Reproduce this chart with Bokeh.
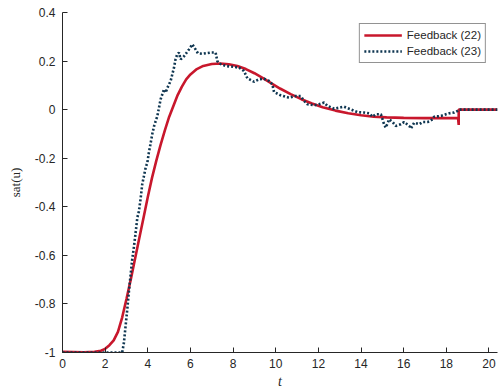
from bokeh.plotting import figure
from bokeh.models import Range1d, FixedTicker, CustomJSTickFormatter, Legend, LegendItem
from bokeh.embed import file_html
from bokeh.resources import INLINE

# Feedback (22) - smooth response
t_fb22 = [0, 0.5, 1.0, 1.5, 1.8, 2.0, 2.2, 2.4, 2.6, 2.8, 3.0, 3.2, 3.4, 3.6, 3.8, 4.0,
          4.2, 4.4, 4.6, 4.8, 5.0, 5.2, 5.4, 5.6, 5.8, 6.0, 6.3, 6.6, 7.0, 7.4, 7.8, 8.2,
          8.6, 9.0, 9.4, 9.8, 10.2, 10.7, 11.2, 11.7, 12.2, 12.8, 13.4, 14.0, 14.6, 15.2,
          16.0, 17.0, 18.0, 18.55, 18.58, 18.58, 20.4]
u_fb22 = [-0.997, -0.998, -0.999, -0.997, -0.993, -0.985, -0.97, -0.95, -0.915, -0.855,
          -0.78, -0.70, -0.615, -0.53, -0.445, -0.36, -0.28, -0.21, -0.145, -0.085, -0.03,
          0.015, 0.06, 0.095, 0.125, 0.145, 0.167, 0.18, 0.188, 0.19, 0.187, 0.18, 0.167,
          0.15, 0.13, 0.108, 0.087, 0.064, 0.043, 0.025, 0.01, -0.004, -0.015, -0.023,
          -0.029, -0.032, -0.034, -0.035, -0.035, -0.035, -0.063, 0.0, 0.0]

# Feedback (23) - noisy response
t_fb23 = [0, 2.8, 2.88, 2.96, 3.04, 3.11, 3.19, 3.27, 3.35, 3.43, 3.51, 3.58, 3.66, 3.74,
          3.82, 3.9, 3.98, 4.05, 4.13, 4.21, 4.3, 4.45, 4.6, 4.76, 4.84, 4.92, 5.07, 5.23,
          5.3, 5.38, 5.46, 5.54, 5.7, 5.93, 6.09, 6.24, 6.35, 6.56, 6.95, 7.18, 7.26, 7.35,
          7.65, 8.04, 8.28, 8.51, 8.67, 8.98, 9.22, 9.45, 9.69, 9.84, 9.92, 10.23, 10.63,
          10.94, 11.17, 11.33, 11.49, 11.8, 12.03, 12.27, 12.43, 12.74, 12.97, 13.2, 13.52,
          13.83, 14.15, 14.38, 14.54, 14.69, 14.93, 15.01, 15.08, 15.16, 15.32, 15.48,
          15.63, 15.87, 16.02, 16.26, 16.34, 16.49, 16.73, 16.89, 17.12, 17.36, 17.43,
          17.75, 17.98, 18.14, 18.37, 18.53, 18.6, 20.4]
u_fb23 = [-1.0, -1.0, -0.96, -0.89, -0.82, -0.753, -0.684, -0.616, -0.565, -0.506, -0.444,
          -0.42, -0.369, -0.307, -0.273, -0.239, -0.218, -0.177, -0.14, -0.1, -0.066,
          -0.026, 0.042, 0.084, 0.07, 0.09, 0.118, 0.173, 0.207, 0.228, 0.235, 0.207, 0.22,
          0.248, 0.269, 0.248, 0.232, 0.23, 0.235, 0.235, 0.2, 0.19, 0.18, 0.176, 0.173,
          0.159, 0.129, 0.115, 0.125, 0.127, 0.118, 0.104, 0.073, 0.059, 0.049, 0.056,
          0.056, 0.036, 0.022, 0.018, 0.022, 0.029, 0.015, 0.004, 0.008, 0.012, 0.001,
          -0.01, -0.012, -0.015, -0.029, -0.019, -0.019, -0.04, -0.06, -0.074, -0.04,
          -0.051, -0.067, -0.06, -0.051, -0.067, -0.078, -0.054, -0.06, -0.051, -0.051,
          -0.04, -0.029, -0.026, -0.019, -0.015, -0.012, -0.005, 0.0, 0.0]

x_ticks = [0, 2, 4, 6, 8, 10, 12, 14, 16, 18, 20]
y_ticks = [-1.0, -0.8, -0.6, -0.4, -0.2, 0.0, 0.2, 0.4]

TXT = "#262626"

p = figure(width=498, height=392, output_backend="svg", toolbar_location=None,
           x_range=Range1d(0, 20.4), y_range=Range1d(-1, 0.4),
           min_border_left=62, min_border_right=1, min_border_top=12, min_border_bottom=40)
p.outline_line_color = None
p.grid.visible = False
p.background_fill_color = "white"
p.border_fill_color = "white"

r1 = p.line(t_fb22, u_fb22, line_color="#c8172c", line_width=2.6)
r2 = p.line(t_fb23, u_fb23, line_color="#0f3651", line_width=2.6, line_dash="2 2")

for ax in (p.xaxis[0], p.yaxis[0]):
    ax.axis_line_color = TXT
    ax.axis_line_width = 1
    ax.major_tick_line_color = TXT
    ax.major_tick_in = 5
    ax.major_tick_out = 0
    ax.minor_tick_line_color = None
    ax.major_label_text_font = "Liberation Sans"
    ax.major_label_text_font_size = "12px"
    ax.major_label_text_color = TXT
    ax.axis_label_text_color = TXT

p.xaxis.ticker = FixedTicker(ticks=x_ticks)
p.yaxis.ticker = FixedTicker(ticks=y_ticks)
p.yaxis.formatter = CustomJSTickFormatter(code="""
    var s = (Math.abs(tick) < 1e-9 ? 0 : tick).toFixed(1);
    return s.replace(/\\.0$/, '');
""")
p.xaxis.major_label_standoff = 6
p.yaxis.major_label_standoff = 7

p.xaxis.axis_label = "t"
p.xaxis.axis_label_text_font = "Liberation Serif"
p.xaxis.axis_label_text_font_style = "italic"
p.xaxis.axis_label_text_font_size = "14px"
p.xaxis.axis_label_standoff = 3

p.yaxis.axis_label = "sat(u)"
p.yaxis.axis_label_text_font = "Liberation Serif"
p.yaxis.axis_label_text_font_style = "normal"
p.yaxis.axis_label_text_font_size = "13px"
p.yaxis.axis_label_standoff = 9

legend = Legend(items=[LegendItem(label="Feedback (22)", renderers=[r1]),
                       LegendItem(label="Feedback (23)", renderers=[r2])],
                location="top_right")
legend.margin = 11
legend.padding = 4
legend.spacing = 2
legend.glyph_width = 38
legend.glyph_height = 14
legend.label_height = 14
legend.label_standoff = 5
legend.label_text_font = "Liberation Sans"
legend.label_text_font_size = "11.5px"
legend.label_text_color = TXT
legend.border_line_color = TXT
legend.border_line_width = 0.8
legend.background_fill_alpha = 1
p.add_layout(legend)

open("out.html", "w").write(file_html(p, INLINE))
